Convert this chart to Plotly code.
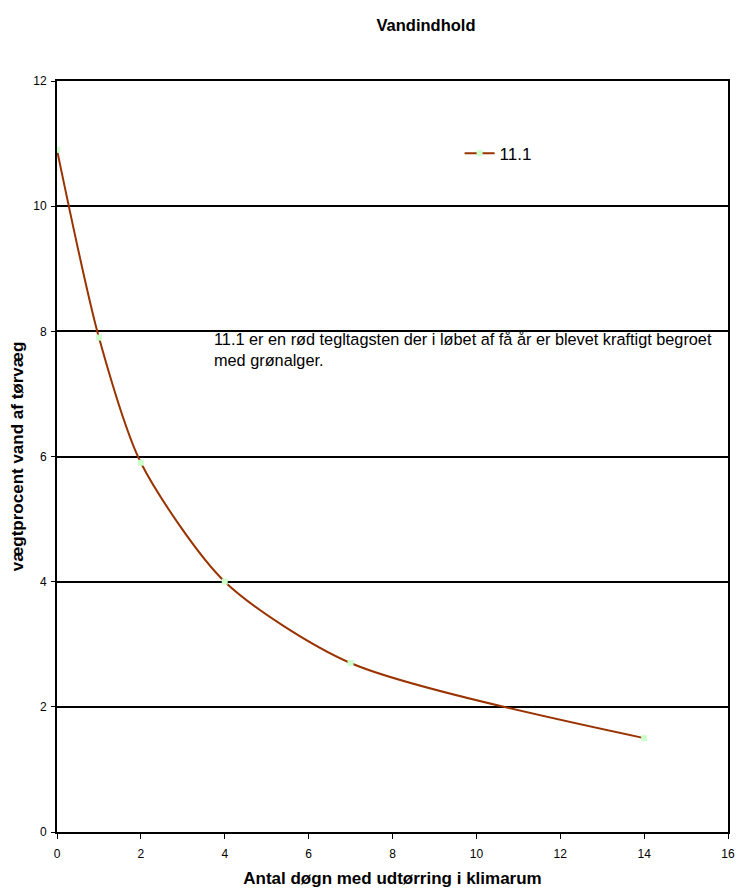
import plotly.graph_objects as go

# Drying curve for sample 11.1
days = [0, 1, 2, 4, 7, 14]
water_pct = [10.9, 7.9, 5.9, 4.0, 2.7, 1.5]
series_name = "11.1"

x_ticks = [0, 2, 4, 6, 8, 10, 12, 14, 16]
y_ticks = [0, 2, 4, 6, 8, 10, 12]

FONT = "Liberation Sans, Arial, sans-serif"

fig = go.Figure()
fig.add_trace(go.Scatter(
    x=days, y=water_pct, name=series_name,
    mode="lines+markers",
    line=dict(color="#993300", width=2, shape="spline", smoothing=0.75),
    marker=dict(symbol="square", size=6, color="#ccffcc",
                line=dict(width=0)),
))

fig.update_layout(
    width=739, height=891,
    margin=dict(l=57, r=4, t=81, b=59),
    paper_bgcolor="white", plot_bgcolor="white",
    font=dict(family=FONT, color="black", size=12),
    title=dict(text="<b>Vandindhold</b>", x=426 / 739, xanchor="center",
               y=1 - 25 / 891, yanchor="middle",
               font=dict(size=16.5, family=FONT)),
    showlegend=True,
    legend=dict(x=0.6, y=0.927, xanchor="left", yanchor="top",
                bgcolor="rgba(0,0,0,0)", font=dict(size=17, family=FONT),
                itemwidth=30),
    annotations=[dict(
        xref="paper", yref="paper", x=(214 - 57) / 678, y=(832 - 328) / 751,
        xanchor="left", yanchor="top", align="left", showarrow=False,
        text="11.1 er en rød tegltagsten der i løbet af få år er blevet kraftigt begroet<br>med grønalger.",
        font=dict(size=16.3, family=FONT),
    )],
)

fig.update_xaxes(
    range=[0, 16], tickvals=x_ticks, ticks="outside", ticklen=5,
    tickcolor="black", tickwidth=1, ticklabeloverflow="allow",
    ticklabelstandoff=5,
    showline=True, linecolor="black", linewidth=2, mirror=True,
    showgrid=False, zeroline=False,
    title=dict(text="<b>Antal døgn med udtørring i klimarum</b>",
               font=dict(size=17, family=FONT), standoff=12),
)
fig.update_yaxes(
    range=[0, 12], tickvals=y_ticks, ticks="outside", ticklen=4,
    tickcolor="black", tickwidth=1, ticklabelstandoff=2,
    showline=True, linecolor="black", linewidth=2, mirror=True,
    showgrid=True, gridcolor="black", gridwidth=1.5, zeroline=False,
    title=dict(text="<b>vægtprocent vand af tørvæg</b>",
               font=dict(size=17, family=FONT), standoff=5),
)

fig.write_html("out.html")
